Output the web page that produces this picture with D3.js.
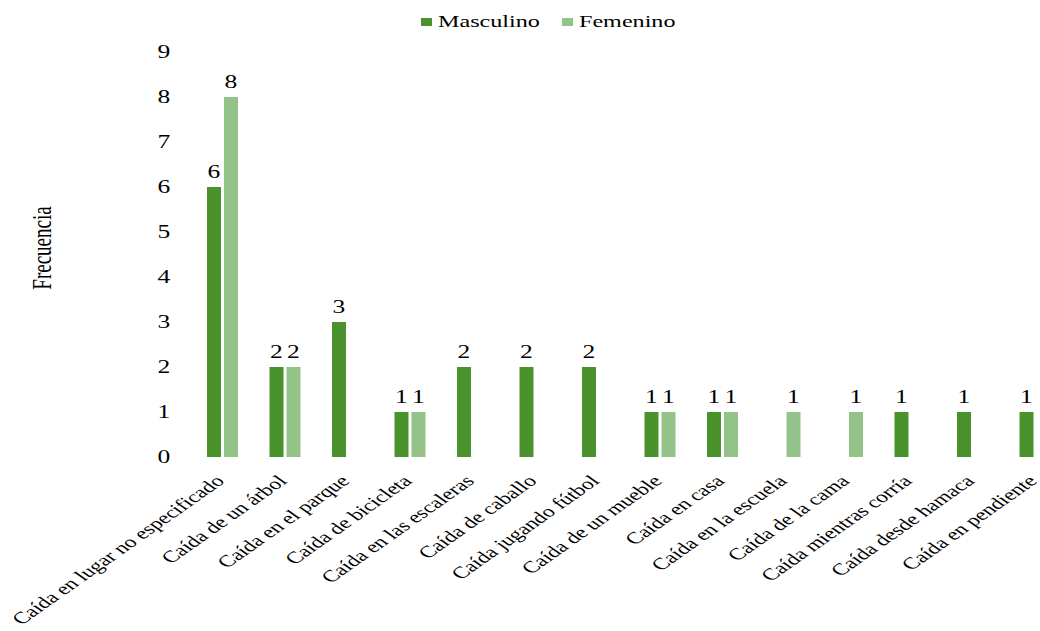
<!DOCTYPE html>
<html><head><meta charset="utf-8">
<script src="https://cdn.jsdelivr.net/npm/d3@7"></script>
<style>body{margin:0;background:#fff}svg{display:block}</style>
</head><body><svg id="c" width="1040" height="631"></svg>
<script>
const categories = ["Caída en lugar no especificado","Caída de un árbol","Caída en el parque","Caída de bicicleta","Caída en las escaleras","Caída de caballo","Caída jugando fútbol","Caída de un mueble","Caída en casa","Caída en la escuela","Caída de la cama","Caída mientras corría","Caída desde hamaca","Caída en pendiente"];
const seriesNames = ["Masculino","Femenino"];
const masculino = [6,2,3,1,2,2,2,1,1,0,0,1,1,1];
const femenino  = [8,2,0,1,0,0,0,1,1,1,1,0,0,0];
const yTicks = [0,1,2,3,4,5,6,7,8,9];
const colors = ["#4a922c","#93c388"];
const FONT = "'Liberation Serif', 'Times New Roman', serif";
const K = 1.42; // horizontal stretch of the original picture

const svg = d3.select("#c");
const x = d3.scaleBand().domain(categories).range([191.25, 1066.25]);
const xs = d3.scaleBand().domain(seriesNames).range([-15.5, 15.5]).paddingInner(3/17);
const y = d3.scaleLinear().domain([0,9]).range([457, 52]);
const cx = c => x(c) + x.bandwidth()/2;

function T(sel, size){ return sel.attr("font-family", FONT).attr("fill", "#000").attr("font-size", size); }

// y tick labels
T(svg.append("g").selectAll("text").data(yTicks).join("text"), 18)
  .attr("transform", d => `translate(164,${y(d)}) scale(${K},1)`).attr("dy", "0.35em")
  .attr("text-anchor", "middle").text(d => d);

// y title
T(svg.append("text"), 19).attr("transform", `translate(51,248) scale(${K},1) rotate(-90)`)
  .attr("text-anchor", "middle").text("Frecuencia");

const series = [masculino, femenino];
series.forEach((vals, si) => {
  const g = svg.append("g");
  const data = categories.map((c, i) => ({c, v: vals[i]})).filter(d => d.v > 0);
  g.selectAll("rect").data(data).join("rect")
    .attr("x", d => cx(d.c) + xs(seriesNames[si]))
    .attr("width", xs.bandwidth())
    .attr("y", d => y(d.v)).attr("height", d => y(0) - y(d.v))
    .attr("fill", colors[si]);
  T(g.selectAll("text").data(data).join("text"), 18)
    .attr("transform", d => `translate(${cx(d.c) + xs(seriesNames[si]) + xs.bandwidth()/2},${y(d.v) - 9}) scale(${K},1)`)
    .attr("text-anchor", "middle").text(d => d.v);
});

// x labels
T(svg.append("g").selectAll("text").data(categories).join("text"), 16.5)
  .attr("transform", d => `translate(${cx(d) + 3},${482}) scale(${K},1) rotate(-45)`)
  .attr("text-anchor", "end").text(d => d);

// legend
const leg = svg.append("g");
const legX = [421, 562];
seriesNames.forEach((n, i) => {
  leg.append("rect").attr("x", legX[i]).attr("y", 18).attr("width", 11).attr("height", 8).attr("fill", colors[i]);
  T(leg.append("text"), 17).attr("transform", `translate(${legX[i] + 17},27) scale(${K},1)`).text(n);
});
</script></body></html>
